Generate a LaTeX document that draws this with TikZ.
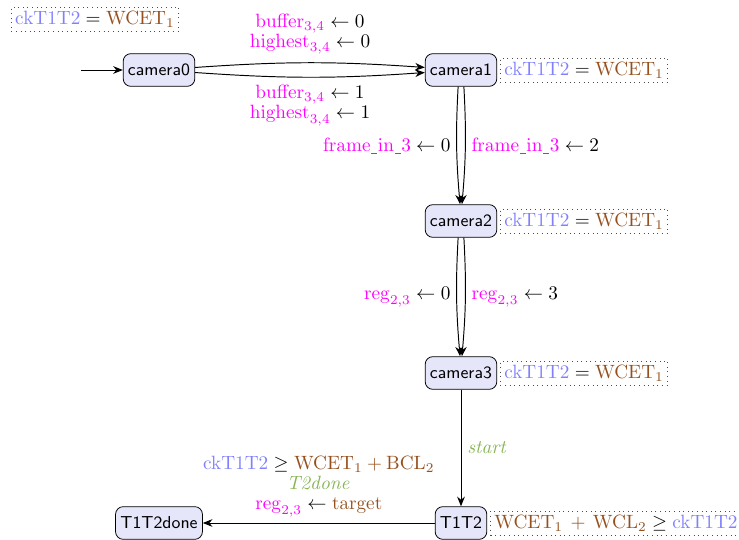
\documentclass[tikz,border=0pt]{standalone}
\usetikzlibrary{arrows.meta}
\definecolor{stfill}{RGB}{230,230,250}
\definecolor{varc}{RGB}{255,0,255}
\definecolor{clkc}{RGB}{128,128,255}
\definecolor{cstc}{RGB}{150,80,30}
\definecolor{actc}{RGB}{135,180,85}
\newcommand{\vv}[1]{\textcolor{varc}{#1}}
\newcommand{\cc}[1]{\textcolor{clkc}{#1}}
\newcommand{\kk}[1]{\textcolor{cstc}{#1}}
\newcommand{\usc}{\kern0.4pt\lower1.2pt\hbox{\vrule width 3pt height 0.4pt depth 0pt}\kern0.4pt}
\begin{document}
\begin{tikzpicture}[x=0.52pt,y=-0.52pt,
  stbox/.style={draw, rounded corners=4pt, fill=stfill, font=\sffamily\small, inner xsep=2.5pt, inner ysep=2pt, minimum height=17pt},
  invbox/.style={draw=black!70, dotted, anchor=west, inner xsep=2pt, inner ysep=2pt},
  trans/.style={-{Stealth[length=5pt,width=4pt]}, line width=0.5pt},
  lbl/.style={align=center, inner sep=1pt, execute at begin node={\setlength{\baselineskip}{10.3pt}}}]
\useasboundingbox (0,0) rectangle (739,540);
\node[stbox] (c0) at (159,70) {camera0};
\node[stbox] (c1) at (461,70) {camera1};
\node[stbox] (c2) at (461,221) {camera2};
\node[stbox] (c3) at (461,373) {camera3};
\node[stbox] (t) at (461,523) {T1T2};
\node[stbox] (td) at (159,523) {T1T2done};
\coordinate (init) at (81,70);
% invariants
\node[invbox, anchor=center] (i0) at (95,19) {$\cc{\mathrm{ckT1T2}} = \kk{\mathrm{WCET}_1}$};
\node[invbox] (i1) at ([xshift=1.5pt]c1.east) {$\cc{\mathrm{ckT1T2}} = \kk{\mathrm{WCET}_1}$};
\node[invbox] (i2) at ([xshift=1.5pt]c2.east) {$\cc{\mathrm{ckT1T2}} = \kk{\mathrm{WCET}_1}$};
\node[invbox] (i3) at ([xshift=1.5pt]c3.east) {$\cc{\mathrm{ckT1T2}} = \kk{\mathrm{WCET}_1}$};
\node[invbox] (it) at ([xshift=1.5pt]t.east) {$\kk{\mathrm{WCET}_1 \mathbin{\,+\,} \mathrm{WCL}_2} \geq \cc{\mathrm{ckT1T2}}$};
% edges
\draw[trans] (init) -- (c0);
\draw[trans] (c0) to[bend left=4] node[lbl, above=3pt] {$\vv{\mathrm{buffer}_{3,4}} \leftarrow 0$\\$\vv{\mathrm{highest}_{3,4}} \leftarrow 0$} (c1);
\draw[trans] (c0) to[bend right=4] node[lbl, below=3pt] {$\vv{\mathrm{buffer}_{3,4}} \leftarrow 1$\\$\vv{\mathrm{highest}_{3,4}} \leftarrow 1$} (c1);
\draw[trans] ([xshift=-1.5pt]c1.south) to[bend right=4] node[lbl, left=2pt] {$\vv{\mathrm{frame\usc in\usc 3}} \leftarrow 0$} ([xshift=-0.5pt]c2.north);
\draw[trans] ([xshift=1.5pt]c1.south) to[bend left=4] node[lbl, right=2pt] {$\vv{\mathrm{frame\usc in\usc 3}} \leftarrow 2$} ([xshift=0.5pt]c2.north);
\draw[trans] ([xshift=-1.5pt]c2.south) to[bend right=4] node[lbl, left=2pt] {$\vv{\mathrm{reg}_{2,3}} \leftarrow 0$} ([xshift=-0.5pt]c3.north);
\draw[trans] ([xshift=1.5pt]c2.south) to[bend left=4] node[lbl, right=2pt] {$\vv{\mathrm{reg}_{2,3}} \leftarrow 3$} ([xshift=0.5pt]c3.north);
\draw[trans] (c3) -- node[lbl, right=2pt] {\textcolor{actc}{$\mathit{start}$}} (t);
\draw[trans] (t) -- node[lbl, above=2pt] {$\cc{\mathrm{ckT1T2}} \geq \kk{\mathrm{WCET}_1 + \mathrm{BCL}_2}$\\\textcolor{actc}{$\mathit{T2done}$}\\$\vv{\mathrm{reg}_{2,3}} \leftarrow \kk{\mathrm{target}}$} (td);
\end{tikzpicture}
\end{document}
